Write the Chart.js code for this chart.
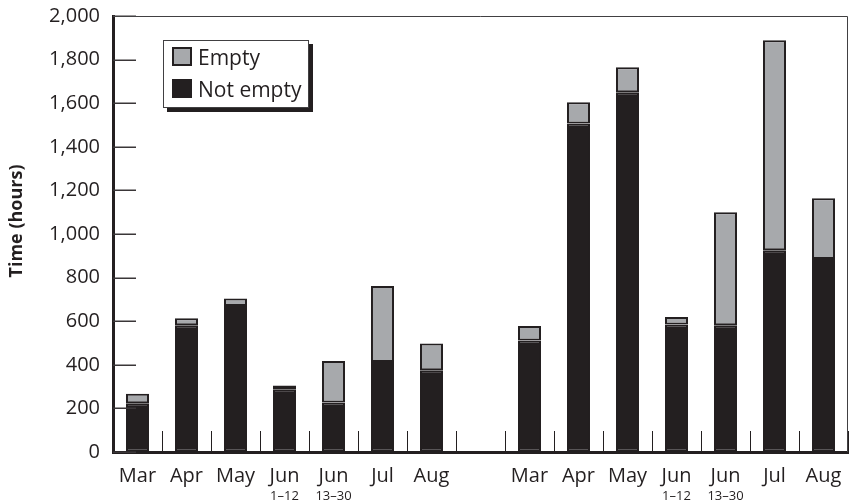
<!DOCTYPE html>
<html>
<head>
<meta charset="utf-8">
<script src="https://cdn.jsdelivr.net/npm/chart.js@4/dist/chart.umd.min.js"></script>
<style>
  html, body { margin: 0; padding: 0; background: #ffffff; }
  #wrap { position: relative; width: 850px; height: 501px; }
  #legend {
    position: absolute; left: 163px; top: 40px; width: 144px; height: 66px;
    border: 1.5px solid #414042; background: #ffffff;
    box-shadow: 4px 4px 0 #231f20;
    font-family: "Open Sans", sans-serif; font-size: 21px; color: #231f20;
  }
  .sw { position: absolute; left: 8px; width: 16px; height: 15px; border: 2px solid #231f20; }
  .lt { position: absolute; left: 34px; line-height: 20px; white-space: nowrap; }
</style>
</head>
<body>
<div id="wrap">
  <canvas id="c" width="850" height="501"></canvas>
  <div id="legend"></div>
</div>
<script>
// ---- data ----
const categories = ['Mar','Apr','May','Jun','Jun','Jul','Aug','','Mar','Apr','May','Jun','Jun','Jul','Aug'];
const subLabels  = ['','','','1–12','13–30','','','','','','','1–12','13–30','',''];
const notEmptyHours = [224, 581, 670, 288, 227, 413, 375, null, 511, 1507, 1650, 585, 581, 926, 885];
const emptyHours    = [ 43,  32,  34,  17, 191, 349, 123, null,  67,   97,  115,  34, 519, 963, 279];
const seriesNames = ['Not empty', 'Empty'];
const yTicks = { min: 0, max: 2000, step: 200 };
const yTitle = 'Time (hours)';

const BLACK = '#231f20';
const GRAY = '#a7a9ac';
const FONT = '"Open Sans", sans-serif';

const frame = {
  id: 'frame',
  afterDraw(chart) {
    const { ctx, chartArea: a } = chart;
    const ys = chart.scales.y;
    ctx.save();
    // inward tick marks on the value axis, placed by the y scale
    ctx.fillStyle = '#3a3638';
    ys.ticks.forEach((t) => {
      const py = Math.round(ys.getPixelForValue(t.value));
      ctx.fillRect(a.left, py - 0.5, 23, 1.5);
    });
    // thin top and right frame
    ctx.strokeStyle = '#414042';
    ctx.lineWidth = 1;
    ctx.beginPath();
    ctx.moveTo(a.left, a.top + 0.5);
    ctx.lineTo(a.right - 0.5, a.top + 0.5);
    ctx.lineTo(a.right - 0.5, a.bottom);
    ctx.stroke();
    // y-axis title
    ctx.translate(ys.left + 17, (a.top + a.bottom) / 2 - 13);
    ctx.rotate(-Math.PI / 2);
    ctx.fillStyle = BLACK;
    ctx.font = 'bold 18px ' + FONT;
    ctx.textAlign = 'center';
    ctx.textBaseline = 'middle';
    ctx.fillText(yTitle, 0, 0);
    ctx.restore();
  }
};

const chart = new Chart(document.getElementById('c'), {
  type: 'bar',
  data: {
    labels: categories,
    datasets: [
      { label: seriesNames[0], data: notEmptyHours, backgroundColor: BLACK, borderColor: BLACK, borderWidth: 2, borderSkipped: false },
      { label: seriesNames[1], data: emptyHours, backgroundColor: GRAY, borderColor: BLACK, borderWidth: 2, borderSkipped: false }
    ]
  },
  options: {
    responsive: false,
    animation: false,
    events: [],
    barPercentage: 0.47,
    categoryPercentage: 1,
    layout: { padding: { top: 16, right: 2, left: 0, bottom: 0 } },
    plugins: { legend: { display: false }, tooltip: { enabled: false } },
    scales: {
      x: {
        stacked: true,
        offset: true,
        grid: { offset: true, drawOnChartArea: false, drawTicks: true, tickLength: -21, color: BLACK, lineWidth: 1 },
        border: { display: true, color: BLACK, width: 3 },
        ticks: { color: BLACK, font: { family: FONT, size: 20 }, padding: 33, maxRotation: 0, autoSkip: false },
        afterFit(s) { s.height = 35; s.paddingLeft = 0; s.paddingRight = 0; }
      },
      x2: {
        type: 'category',
        position: 'bottom',
        labels: subLabels,
        offset: true,
        grid: { display: false, drawTicks: false, offset: true },
        border: { display: false },
        ticks: { color: BLACK, font: { family: FONT, size: 13 }, padding: 1, maxRotation: 0, autoSkip: false },
        afterFit(s) { s.height = 14; s.paddingLeft = 0; s.paddingRight = 0; }
      },
      y: {
        stacked: true,
        min: yTicks.min,
        max: yTicks.max,
        grid: { drawOnChartArea: false, drawTicks: false },
        border: { display: true, color: BLACK, width: 3 },
        ticks: { stepSize: yTicks.step, color: BLACK, font: { family: FONT, size: 20 }, padding: 13 },
        afterFit(s) { s.width = 113; s.paddingTop = 0; s.paddingBottom = 0; }
      }
    }
  },
  plugins: [frame]
});

// legend built from the datasets (top-to-bottom: Empty, Not empty)
const legend = document.getElementById('legend');
const order = [1, 0];
order.forEach((di, i) => {
  const ds = chart.data.datasets[di];
  const sw = document.createElement('div');
  sw.className = 'sw';
  sw.style.background = ds.backgroundColor;
  sw.style.top = (6 + i * 32) + 'px';
  legend.appendChild(sw);
  const t = document.createElement('div');
  t.className = 'lt';
  t.textContent = ds.label;
  t.style.top = (6 + i * 32) + 'px';
  legend.appendChild(t);
});
</script>
</body>
</html>
